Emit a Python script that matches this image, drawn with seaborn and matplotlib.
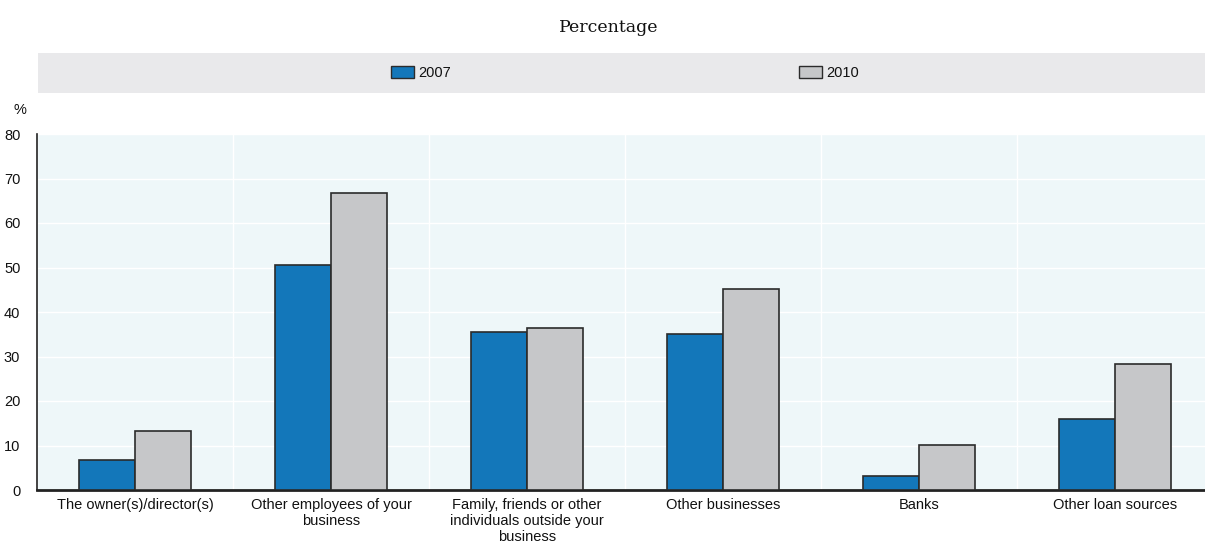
"""
plot.py

Bar chart of financing sources by year (2007 vs 2010), OECD style.
Saves out.png (~1205x555 px).
"""

import numpy as np
import pandas as pd
import matplotlib.pyplot as plt
import seaborn as sns
from matplotlib.patches import Rectangle, Patch
from matplotlib.ticker import FixedLocator

# Data
categories = [
    "The owner(s)/director(s)",
    "Other employees of your\nbusiness",
    "Family, friends or other\nindividuals outside your\nbusiness",
    "Other businesses",
    "Banks",
    "Other loan sources",
]
years = ["2007", "2010"]
values_2007 = [6.7, 50.6, 35.4, 35.1, 3.1, 16.0]
values_2010 = [13.3, 66.7, 36.3, 45.1, 10.2, 28.4]
y_ticks = [0, 10, 20, 30, 40, 50, 60, 70, 80]

# Style
BLUE = "#1377BA"
GREY = "#C6C7C9"
EDGE = "#2B2B2B"
PLOT_BG = "#EEF7F9"
BAND_BG = "#E9E9EB"
FIG_DPI = 100

sns.set_style("white")
plt.rcParams["font.family"] = ["Liberation Sans", "DejaVu Sans"]


def main():
    df = pd.DataFrame(
        {
            "category": categories * 2,
            "year": [years[0]] * len(categories) + [years[1]] * len(categories),
            "value": values_2007 + values_2010,
        }
    )

    fig = plt.figure(figsize=(12.05, 5.55), dpi=FIG_DPI)
    ax = fig.add_axes([37 / 1205, 1 - 490 / 555, 1168 / 1205, 356 / 555])
    ax.set_facecolor(PLOT_BG)

    sns.barplot(
        data=df,
        x="category",
        y="value",
        hue="year",
        palette=[BLUE, GREY],
        saturation=1,
        width=0.57,
        edgecolor=EDGE,
        linewidth=1.2,
        legend=False,
        ax=ax,
        zorder=3,
    )

    # Axes limits and ticks
    ax.set_ylim(0, 80)
    ax.set_xlim(-0.5, -0.5 + 1168 / 196)
    ax.set_yticks(y_ticks)
    ax.set_xlabel("")
    ax.set_ylabel("")
    ax.xaxis.set_minor_locator(FixedLocator(np.arange(len(categories) + 1) - 0.5))
    ax.tick_params(axis="x", which="major", length=0, labelsize=10.5, pad=6,
                   labelcolor="#111111")
    ax.tick_params(axis="x", which="minor", length=5, width=1.2, direction="in",
                   color="#333333")
    ax.tick_params(axis="y", which="major", length=5, width=1.2, direction="in",
                   labelsize=10.5, color="#222222", pad=12, labelcolor="#111111")
    for lab in ax.get_xticklabels():
        lab.set_linespacing(1.15)

    # Grid
    ax.grid(axis="y", which="major", color="white", linewidth=1.0, zorder=0)
    ax.grid(axis="x", which="minor", color="white", linewidth=1.0, zorder=0)
    ax.set_axisbelow(True)

    # Spines
    for side in ["top", "right"]:
        ax.spines[side].set_visible(False)
    ax.spines["left"].set_linewidth(1.2)
    ax.spines["left"].set_color("#222222")
    ax.spines["bottom"].set_linewidth(2.0)
    ax.spines["bottom"].set_color("#222222")

    # Unit label
    fig.text(20 / 1205, 1 - 110 / 555, "%", fontsize=10.5, ha="center",
             va="center", color="#111111")

    # Subtitle
    fig.text(0.505, 1 - 27 / 555, "Percentage", fontsize=12.5, ha="center",
             va="center", family=["DejaVu Serif"], color="#111111")

    # Legend band
    fig.patches.append(
        Rectangle((38 / 1205, 1 - 93 / 555), 1167 / 1205, 40 / 555,
                  transform=fig.transFigure, facecolor=BAND_BG, edgecolor="none",
                  zorder=0)
    )
    handles = [
        Patch(facecolor=BLUE, edgecolor=EDGE, linewidth=1.0, label=years[0]),
        Patch(facecolor=GREY, edgecolor=EDGE, linewidth=1.0, label=years[1]),
    ]
    leg = fig.legend(
        handles=handles,
        loc="center",
        bbox_to_anchor=(625 / 1205, 1 - 73 / 555),
        ncol=2,
        frameon=False,
        fontsize=10.5,
        handlelength=1.6,
        handleheight=0.85,
        handletextpad=0.3,
        columnspacing=23.8,
    )
    for t in leg.get_texts():
        t.set_color("#111111")

    fig.savefig("out.png", dpi=FIG_DPI)
    plt.close(fig)


if __name__ == "__main__":
    main()
